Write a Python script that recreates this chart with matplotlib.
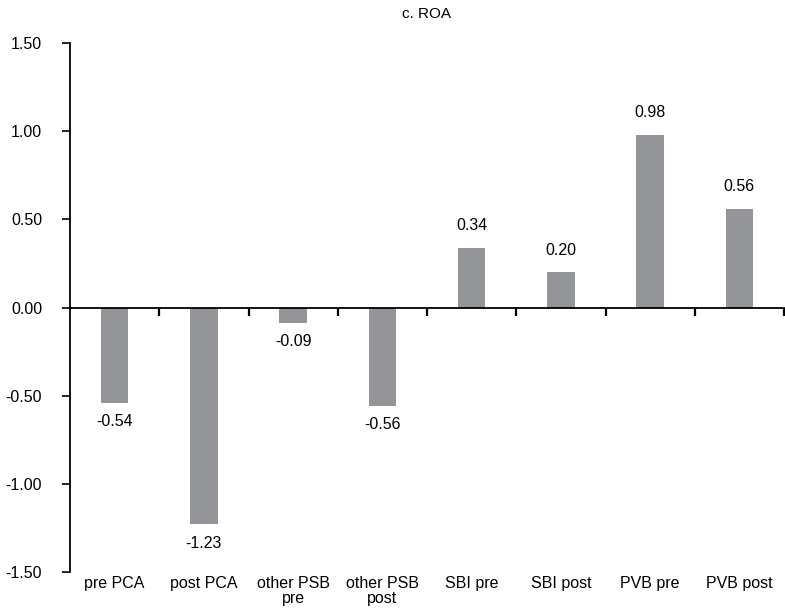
import matplotlib
matplotlib.use("Agg")
import matplotlib.pyplot as plt
import numpy as np

plt.rcParams['font.family'] = ['Liberation Sans', 'DejaVu Sans']

# donnees
categories = ['pre PCA', 'post PCA', 'other PSB\npre', 'other PSB\npost',
              'SBI pre', 'SBI post', 'PVB pre', 'PVB post']
valeurs = [-0.54, -1.23, -0.09, -0.56, 0.34, 0.20, 0.98, 0.56]
yticks = [-1.5, -1.0, -0.5, 0.0, 0.5, 1.0, 1.5]

fig = plt.figure(figsize=(7.85, 6.10), dpi=100)
ax = fig.add_axes([70 / 785, 38 / 610, (784 - 70) / 785, (567 - 38) / 610])

x = np.arange(len(categories))
ax.bar(x, valeurs, width=0.31, color='#939598', zorder=1)

# etiquettes de valeur
for xi, v in zip(x, valeurs):
    if v >= 0:
        ax.annotate('%.2f' % v, (xi, v), xytext=(0, 10.5), textcoords='offset points',
                    ha='center', va='bottom', fontsize=11.5)
    else:
        ax.annotate('%.2f' % v, (xi, v), xytext=(0, -8), textcoords='offset points',
                    ha='center', va='top', fontsize=11.5)

ax.set_ylim(-1.5, 1.5)
ax.set_xlim(-0.5, len(categories) - 0.5)
ax.set_yticks(yticks)
ax.set_yticklabels(['%.2f' % t for t in yticks], fontsize=11.5)
ax.tick_params(axis='y', direction='out', length=6, width=1.2, pad=14)

# axe x sur le zero
ax.spines['top'].set_visible(False)
ax.spines['right'].set_visible(False)
ax.spines['bottom'].set_position(('data', 0))
ax.spines['bottom'].set_linewidth(1.3)
ax.spines['left'].set_linewidth(1.3)
ax.set_xticks(x + 0.5)
ax.set_xticklabels([])
ax.tick_params(axis='x', direction='out', length=6, width=1.6)

for xi, c in zip(x, categories):
    ax.annotate(c, (xi, -1.5), xytext=(0, -3), textcoords='offset points',
                ha='center', va='top', fontsize=11.5, linespacing=0.95)

fig.text(427 / 785, 1 - 14 / 610, 'c. ROA', ha='center', va='center', fontsize=11)

fig.savefig('out.png', dpi=100)
